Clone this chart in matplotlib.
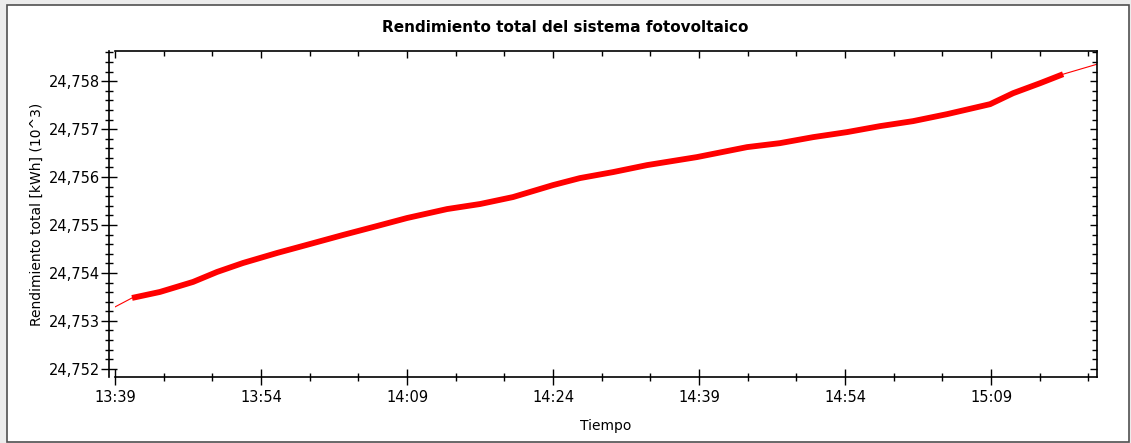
import numpy as np
import pandas as pd
import matplotlib
matplotlib.use("Agg")
import matplotlib.pyplot as plt
import matplotlib.dates as mdates
from matplotlib.ticker import MultipleLocator, FuncFormatter
from matplotlib.patches import Rectangle

# readings taken off the chart (time, total yield in 10^3 kWh)
times = ["13:39:00", "13:40:45", "13:43:37", "13:47:01", "13:49:29", "13:52:09",
         "13:55:39", "13:59:02", "14:02:25", "14:05:55", "14:09:00", "14:13:07",
         "14:16:30", "14:19:53", "14:24:00", "14:26:46", "14:30:10", "14:33:40",
         "14:38:47", "14:43:56", "14:47:19", "14:50:43", "14:54:12", "14:57:36",
         "15:00:59", "15:04:29", "15:08:54", "15:11:16", "15:14:02", "15:16:24",
         "15:19:53"]
values = [24.753292, 24.753479, 24.753604, 24.753813, 24.754021, 24.754208,
          24.754417, 24.754604, 24.754792, 24.754979, 24.755146, 24.755333,
          24.755438, 24.755583, 24.755833, 24.755979, 24.756104, 24.756250,
          24.756417, 24.756625, 24.756708, 24.756833, 24.756938, 24.757063,
          24.757167, 24.757313, 24.757521, 24.757750, 24.757958, 24.758146,
          24.758354]

title = "Rendimiento total del sistema fotovoltaico"
xlabel = "Tiempo"
ylabel = "Rendimiento total [kWh] (10^3)"

t = pd.to_datetime(["2020-01-01 " + s for s in times])
v = np.array(values)
xmin, xmax = t[0], t[-1]
ymin, ymax = 24.75183, 24.75863

fig = plt.figure(figsize=(11.31, 4.43), dpi=100)
fig.patch.set_facecolor("#ececec")
fig.patches.append(Rectangle((7 / 1131, 1 - 442 / 443), 1122 / 1131, 437 / 443,
                             transform=fig.transFigure, facecolor="white",
                             edgecolor="#505050", linewidth=1.2, zorder=-5))

rect = [115 / 1131, 1 - 377 / 443, 982 / 1131, 326 / 443]
ax = fig.add_axes(rect)
ax.set_zorder(2)

# thin line over the whole range, thick band where the samples are
ax.plot(t, v, color="red", linewidth=0.8)
ax.plot(t[1:-1], v[1:-1], color="red", linewidth=4.2, solid_capstyle="butt")

ax.set_xlim(xmin, xmax)
ax.set_ylim(ymin, ymax)

def set_locators(a):
    a.xaxis.set_major_locator(mdates.MinuteLocator(byminute=[9, 24, 39, 54]))
    a.xaxis.set_minor_locator(mdates.MinuteLocator(byminute=range(4, 60, 5)))
    a.yaxis.set_major_locator(MultipleLocator(0.001))
    a.yaxis.set_minor_locator(MultipleLocator(0.0002))

set_locators(ax)
ax.xaxis.set_major_formatter(mdates.DateFormatter("%H:%M"))
ax.yaxis.set_major_formatter(FuncFormatter(lambda y, p: f"{y:.3f}".replace(".", ",")))

ax.tick_params(which="major", direction="inout", length=11, width=1,
               labelsize=10.5, top=False, right=False)
ax.tick_params(axis="y", which="major", pad=1.5)
ax.tick_params(axis="x", which="major", pad=4)
ax.tick_params(which="minor", direction="inout", length=6, width=1,
               top=False, right=False)
ax.spines["left"].set_position(("outward", 4))
for sp in ax.spines.values():
    sp.set_linewidth(1.2)

# inward ticks on the top and right edges
ax2 = fig.add_axes(rect, facecolor="none", sharex=ax, sharey=ax)
ax2.set_zorder(3)
for sp in ax2.spines.values():
    sp.set_visible(False)
ax2.tick_params(which="both", direction="in", bottom=False, left=False,
                top=True, right=True, labelbottom=False, labelleft=False)
ax2.tick_params(which="major", length=5, width=1)
ax2.tick_params(which="minor", length=3.5, width=1)

fig.text(0.5, 1 - 28 / 443, title, ha="center", va="center",
         fontsize=11, fontweight="bold")
ax.set_xlabel(xlabel, fontsize=10, labelpad=10)
ax.set_ylabel(ylabel, fontsize=10, labelpad=3)

fig.savefig("out.png", dpi=100, facecolor=fig.get_facecolor())
